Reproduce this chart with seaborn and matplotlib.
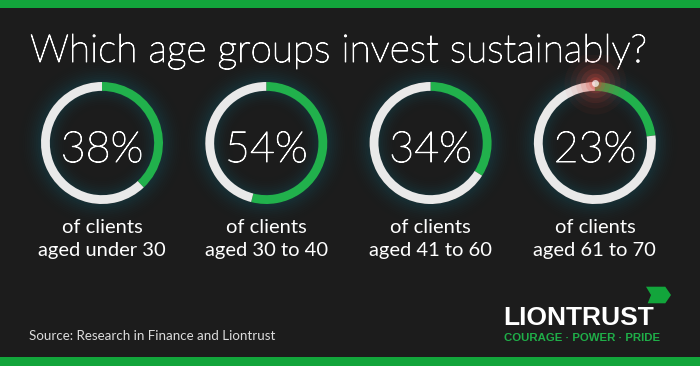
import matplotlib
matplotlib.use("Agg")
import matplotlib.pyplot as plt
import matplotlib.patheffects as pe
import seaborn as sns
from matplotlib.patches import Polygon

# data
groups = ["under 30", "30 to 40", "41 to 60", "61 to 70"]
shares = [38, 54, 34, 23]
title = "Which age groups invest sustainably?"
source = "Source: Research in Finance and Liontrust"

BG = "#1c1c1c"
BAR_GREEN = "#12a53b"
RING_GREEN = "#21b14c"
RING_GREY = "#e9e9e9"
GLOW = "#0f5766"

sns.set_style("dark", {"axes.facecolor": BG, "figure.facecolor": BG})
plt.rcParams["font.family"] = ["Lato", "DejaVu Sans"]

W, H = 700, 366
fig = plt.figure(figsize=(7, 3.66), dpi=100)
bg = fig.add_axes([0, 0, 1, 1])
bg.set_xlim(0, W)
bg.set_ylim(H, 0)
bg.axis("off")

# green bands top and bottom
bg.axhspan(0, 8, color=BAR_GREEN, lw=0)
bg.axhspan(357, H, color=BAR_GREEN, lw=0)

thicken = [pe.withStroke(linewidth=0.7, foreground="white")]
bg.text(30, 62, title, fontsize=28, fontweight="light", color="white", va="baseline",
        path_effects=thicken)

R = 61      # ring radius in px
LIM = 1.45
cy = 143
for i, (grp, val) in enumerate(zip(groups, shares)):
    cx = 102 + 164.3 * i
    size = 2 * LIM * R
    ax = fig.add_axes([(cx - size / 2) / W, (H - cy - size / 2) / H, size / W, size / H])
    ax.set_facecolor("none")

    # soft teal glow around the ring
    for k in range(12):
        ax.pie([1], radius=1.0 + 0.03 * (k + 1), colors=[GLOW], startangle=90,
               wedgeprops=dict(width=0.03, alpha=0.32 * (1 - k / 12) ** 2, linewidth=0))
    for k in range(10):
        ax.pie([1], radius=0.865 - 0.03 * k, colors=[GLOW], startangle=90,
               wedgeprops=dict(width=0.03, alpha=0.30 * (1 - k / 10) ** 2, linewidth=0))

    ax.pie([val, 100 - val], radius=1, startangle=90, counterclock=False,
           colors=[RING_GREEN, RING_GREY], wedgeprops=dict(width=0.145, linewidth=0))
    if i == 3:
        # lens flare at the top of the last ring
        for s, a in [(2000, 0.05), (1300, 0.07), (800, 0.1), (450, 0.14), (200, 0.2), (80, 0.3)]:
            ax.scatter([0], [0.99], s=s, color="#d9483d", alpha=a, lw=0, zorder=5)
        ax.scatter([0], [0.99], s=25, color="white", alpha=0.7, lw=0, zorder=6)
    ax.set_xlim(-LIM, LIM)
    ax.set_ylim(-LIM, LIM)
    ax.set_aspect("equal")
    ax.axis("off")

    bg.text(cx, 162, f"{val}%", fontsize=31, fontweight="light", color="white",
            ha="center", va="baseline", path_effects=thicken)
    bg.text(cx, 233, "of clients", fontsize=14.5, color="white", ha="center", va="baseline")
    bg.text(cx, 256, f"aged {grp}", fontsize=14.5, color="white", ha="center", va="baseline")

bg.text(29, 340, source, fontsize=9.6, color="#dcdcdc", va="baseline")

# logo
bg.text(503, 325, "LIONTRUST", fontsize=19, fontweight="bold", family="Liberation Sans",
        color="white", va="baseline")
bg.text(504, 341, "COURAGE · POWER · PRIDE", fontsize=8.2, fontweight="bold",
        family="Liberation Sans", color="#1fae48", va="baseline")
bg.add_patch(Polygon([(646, 286.7), (665.3, 286.7), (671, 295), (665.3, 303.3),
                      (647.7, 303.3), (651, 295)], closed=True, color=BAR_GREEN, lw=0))

fig.savefig("out.png", dpi=100, facecolor=fig.get_facecolor())
